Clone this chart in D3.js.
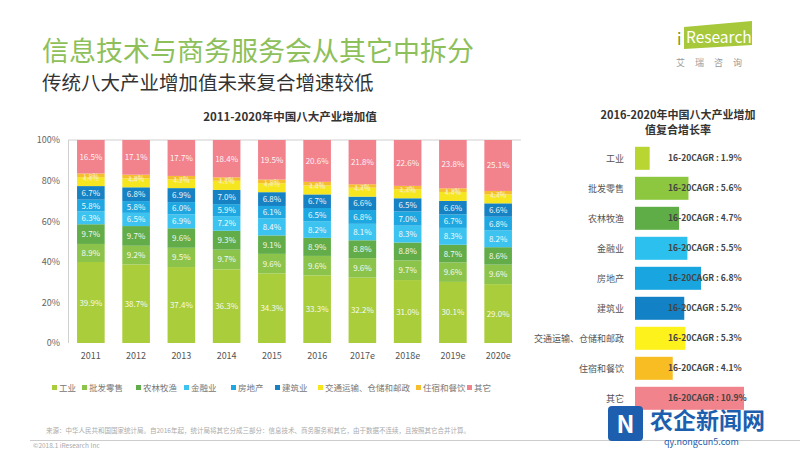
<!DOCTYPE html>
<html><head><meta charset="utf-8">
<script src="https://cdn.jsdelivr.net/npm/d3@7/dist/d3.min.js"></script>
<style>
html,body{margin:0;padding:0;background:#fff;}
svg text{font-family:"Noto Sans CJK SC","Noto Sans",sans-serif;}
</style></head>
<body><svg id="c" width="800" height="450"></svg>
<script>
const years = ["2011","2012","2013","2014","2015","2016","2017e","2018e","2019e","2020e"];
const categories = ["工业","批发零售","农林牧渔","金融业","房地产","建筑业","交通运输、仓储和邮政","住宿和餐饮","其它"];
const gongye    = [39.9,38.7,37.4,36.3,34.3,33.3,32.2,31.0,30.1,29.0];
const pifa      = [8.9,9.2,9.5,9.7,9.6,9.6,9.6,9.7,9.6,9.6];
const nonglin   = [9.7,9.7,9.6,9.3,9.1,8.9,8.8,8.8,8.7,8.6];
const jinrong   = [6.3,6.5,6.9,7.2,8.4,8.2,8.1,8.3,8.3,8.2];
const fangdichan= [5.8,5.8,6.0,5.9,6.1,6.5,6.8,7.0,6.7,6.8];
const jianzhu   = [6.7,6.8,6.9,7.0,6.8,6.7,6.6,6.5,6.6,6.6];
const jiaotong  = [4.4,4.4,4.3,4.5,4.4,4.4,4.4,4.4,4.4,4.4];
const zhusu     = [1.8,1.8,1.7,1.7,1.8,1.8,1.7,1.7,1.8,1.7];
const qita      = [16.5,17.1,17.7,18.4,19.5,20.6,21.8,22.6,23.8,25.1];
const cagr      = [1.9,5.6,4.7,5.5,6.8,5.2,5.3,4.1,10.9];
const yTicks    = [0,20,40,60,80,100];

const colors = ["#a9cd3b","#8cc44b","#62ad4a","#3cc3ef","#1ea7e1","#1682c4","#f6e620","#f6be2e","#f2828c"];
const rightColors = ["#b9d531","#8dc63f","#5fad46","#2cc0ee","#19a6e0","#1381c5","#fdf21c","#f8bd22","#f1838c"];

const series = [gongye,pifa,nonglin,jinrong,fangdichan,jianzhu,jiaotong,zhusu,qita];
const table = years.map((y,i)=>{const o={year:y};categories.forEach((c,k)=>o[c]=series[k][i]);return o;});

const svg = d3.select("#c");

// Titles
svg.append("text").attr("x",42).attr("y",61).attr("font-size",27).attr("fill","#8dc05a").text("信息技术与商务服务会从其它中拆分");
svg.append("text").attr("x",42).attr("y",90).attr("font-size",19.5).attr("fill","#333").text("传统八大产业增加值未来复合增速较低");

// Logo
svg.append("polygon").attr("points","684,27 752,21 752,45 684,49").style("fill","#a6c83a");
svg.append("text").attr("x",677).attr("y",45).attr("font-size",16).style("fill","#6f9a25").attr("font-family","Liberation Sans, sans-serif").text("i");
svg.append("text").attr("x",686).attr("y",43).attr("font-size",15.5).style("fill","#ffffff").attr("font-family","Liberation Sans, sans-serif").text("Research");
svg.append("text").attr("x",676).attr("y",66).attr("font-size",9).attr("fill","#999").attr("letter-spacing","10").text("艾瑞咨询");

// Left chart
const x = d3.scaleBand().domain(years).range([68,521]).paddingInner(0.39).paddingOuter(0.2);
const y = d3.scaleLinear().domain([0,100]).range([343,140]);

svg.append("text").attr("x",290).attr("y",121).attr("text-anchor","middle").attr("font-size",11.5).attr("font-weight","bold").attr("fill","#333").text("2011-2020年中国八大产业增加值");

svg.append("line").attr("x1",68).attr("x2",521).attr("y1",y(100)).attr("y2",y(100)).attr("stroke","#d0d0d0");
svg.append("line").attr("x1",68.5).attr("x2",68.5).attr("y1",y(100)).attr("y2",y(0)).attr("stroke","#d0d0d0");

const yAxis = svg.append("g").attr("transform","translate(68,0)")
  .call(d3.axisLeft(y).tickValues(yTicks).tickFormat(d=>d+"%").tickSize(0).tickPadding(8));
yAxis.select(".domain").remove();
yAxis.selectAll("text").attr("font-size",9).attr("fill","#666").attr("font-family","Noto Sans, sans-serif");

const xAxis = svg.append("g").attr("transform","translate(0,343)")
  .call(d3.axisBottom(x).tickSize(0).tickPadding(10));
xAxis.select(".domain").remove();
xAxis.selectAll("text").attr("font-size",9).attr("fill","#555").attr("font-family","Noto Sans, sans-serif");

const stack = d3.stack().keys(categories)(table);
const layers = svg.append("g").selectAll("g").data(stack).join("g").attr("fill",(d,i)=>colors[i]);
layers.selectAll("rect").data(d=>d).join("rect")
  .attr("x",d=>x(d.data.year)).attr("width",x.bandwidth())
  .attr("y",d=>y(d[1])).attr("height",d=>y(d[0])-y(d[1]));

const labels = svg.append("g");
stack.forEach((layer,k)=>{
  layer.forEach(d=>{
    const v = d[1]-d[0];
    const small = k===6||k===7;
    labels.append("text")
      .attr("x",x(d.data.year)+x.bandwidth()/2)
      .attr("y",y((d[0]+d[1])/2)+ (small ? (k===6?-1:4) : 3))
      .attr("text-anchor","middle").attr("font-size",small?7:8)
      .attr("fill", small ? "#f8f0c0" : "#fff").attr("opacity", small?0.85:0.92)
      .attr("font-family","Noto Sans, sans-serif")
      .text(v.toFixed(1)+"%");
  });
});

// Legend
const legX = [52,82,136,184,231,275,318,416,467];
const leg = svg.append("g");
categories.forEach((c,i)=>{
  leg.append("rect").attr("x",legX[i]).attr("y",385).attr("width",5).attr("height",5).attr("fill",colors[i]);
  leg.append("text").attr("x",legX[i]+7).attr("y",391).attr("font-size",8.5).attr("fill","#777").text(c);
});

// Footer
svg.append("text").attr("x",46).attr("y",433).attr("font-size",6.5).attr("fill","#aaa")
  .text("来源：中华人民共和国国家统计局。自2016年起，统计局将其它分成三部分：信息技术、商务服务和其它，由于数据不连续，且按照其它合并计算。");
svg.append("line").attr("x1",30).attr("x2",800).attr("y1",440.5).attr("y2",440.5).attr("stroke","#ccc");
svg.append("text").attr("x",33).attr("y",448).attr("font-size",6.5).attr("fill","#aaa").text("©2018.1 iResearch Inc");

// Right chart
svg.append("text").attr("x",678).attr("y",119).attr("text-anchor","middle").attr("font-size",11).attr("font-weight","bold").attr("fill","#333").text("2016-2020年中国八大产业增加");
svg.append("text").attr("x",678).attr("y",134).attr("text-anchor","middle").attr("font-size",11).attr("font-weight","bold").attr("fill","#333").text("值复合增长率");

const yr = d3.scaleBand().domain(categories).range([143.3,413.3]).paddingInner(0.233).paddingOuter(0.1165);
const xr = d3.scaleLinear().domain([0.5,10.9]).range([0,109]);
const rg = svg.append("g");
rg.selectAll("rect").data(categories).join("rect")
  .attr("x",635).attr("y",d=>yr(d)).attr("height",yr.bandwidth())
  .attr("width",(d,i)=>xr(cagr[i])).attr("fill",(d,i)=>rightColors[i]);
rg.selectAll("text.cat").data(categories).join("text").attr("class","cat")
  .attr("x",624).attr("y",d=>yr(d)+yr.bandwidth()/2+3.5).attr("text-anchor","end")
  .attr("font-size",9).attr("fill","#555").text(d=>d);
rg.selectAll("text.val").data(categories).join("text").attr("class","val")
  .attr("x",668).attr("y",d=>yr(d)+yr.bandwidth()/2+3)
  .attr("font-size",8.5).attr("font-weight","bold").attr("fill","#444").attr("font-family","Noto Sans, sans-serif")
  .text((d,i)=>"16-20CAGR : "+cagr[i].toFixed(1)+"%");

// Watermark
const wm = svg.append("g");
wm.append("rect").attr("x",608).attr("y",406).attr("width",35).attr("height",35).attr("rx",4).attr("fill","#1d5fae");
wm.append("text").attr("x",625.5).attr("y",433).attr("text-anchor","middle").attr("font-size",24).attr("font-weight","bold").attr("fill","#fff").attr("font-family","Liberation Sans, sans-serif").text("N");
wm.append("text").attr("x",650).attr("y",429).attr("font-size",23).attr("font-weight","bold").attr("fill","#1d5fae").text("农企新闻网");
wm.append("text").attr("x",664).attr("y",445).attr("font-size",9).attr("fill","#1d5fae").attr("font-family","Liberation Sans, sans-serif").text("qy.nongcun5.com");
</script></body></html>
